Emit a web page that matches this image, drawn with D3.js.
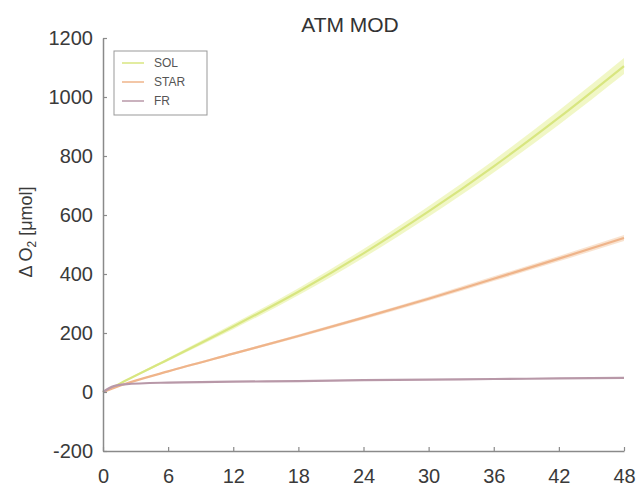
<!DOCTYPE html>
<html>
<head>
<meta charset="utf-8">
<script src="https://cdn.jsdelivr.net/npm/d3@7"></script>
<style>
  body { margin: 0; background: #fff; }
  svg { font-family: "Liberation Sans", Arial, Helvetica, sans-serif; }
</style>
</head>
<body>
<svg id="plotSvg"></svg>
<script>
// data
var hours = [0, 1, 2, 6, 12, 18, 24, 30, 36, 42, 48];
var solMean = [0, 18, 37, 110, 222, 340, 470, 612, 765, 930, 1105];
var solBand = [0, 1, 2, 5, 9, 12, 15, 18, 21, 24, 27];
var starMean = [0, 14, 27, 70, 130, 190, 252, 316, 384, 452, 522];
var starBand = [0, 1, 1, 3, 4, 5, 6, 7, 8, 9, 10];
var frMean = [0, 20, 26, 32, 35, 37, 40, 42, 44, 46, 48];
var frBand = [0, 1, 1, 1, 1, 2, 2, 2, 2, 2, 2];
var xTicks = [0, 6, 12, 18, 24, 30, 36, 42, 48];
var yTicks = [-200, 0, 200, 400, 600, 800, 1000, 1200];
var seriesNames = ["SOL", "STAR", "FR"];

var W = 641, H = 491;
var svg = d3.select("#plotSvg").attr("width", W).attr("height", H);
var margin = { top: 38, right: 17, bottom: 40, left: 103 };
var width = W - margin.left - margin.right,
  height = H - margin.top - margin.bottom;

var g = svg.append("g").attr("transform", "translate(" + margin.left + "," + margin.top + ")");

var x = d3.scaleLinear().domain([0, 48]).range([0, width]);
var y = d3.scaleLinear().domain([-200, 1200]).range([height, 0]);

var series = [
  { name: "SOL", mean: solMean, band: solBand, line: "#d8e680", fill: "#eef5b8" },
  { name: "STAR", mean: starMean, band: starBand, line: "#efb48a", fill: "#f8dcc4" },
  { name: "FR", mean: frMean, band: frBand, line: "#b898a8", fill: "#e6d6de" }
];

var area = d3.area()
  .x(function(d) { return x(d.t); })
  .y0(function(d) { return y(d.v - d.b); })
  .y1(function(d) { return y(d.v + d.b); })
  .curve(d3.curveMonotoneX);

var line = d3.line()
  .x(function(d) { return x(d.t); })
  .y(function(d) { return y(d.v); })
  .curve(d3.curveMonotoneX);

series.forEach(function(s) {
  var pts = hours.map(function(t, i) {
    return { t: t, v: s.mean[i], b: s.band[i] };
  });
  g.append("path").attr("d", area(pts)).attr("fill", s.fill).attr("opacity", 0.8);
  g.append("path").attr("d", line(pts)).attr("fill", "none")
    .attr("stroke", s.line).attr("stroke-width", 2.2);
});

// axes, matlab style: ticks inside, grey
var axisColor = "#8a8a8a";
var fmt = function(d) { return String(d); };
var xAxis = g.append("g")
  .attr("transform", "translate(0," + height + ")")
  .call(d3.axisBottom(x).tickValues(xTicks).tickFormat(fmt)
    .tickSizeInner(-4).tickSizeOuter(0).tickPadding(18));
var yAxis = g.append("g")
  .call(d3.axisLeft(y).tickValues(yTicks).tickFormat(fmt)
    .tickSizeInner(-4).tickSizeOuter(0).tickPadding(10));

[xAxis, yAxis].forEach(function(a) {
  a.select(".domain").attr("stroke", axisColor).attr("stroke-width", 1.5);
  a.selectAll(".tick line").attr("stroke", axisColor).attr("stroke-width", 1.2);
  a.selectAll(".tick text").attr("fill", "#3a3a3a").attr("font-size", 20);
});

// title
svg.append("text")
  .attr("x", 350).attr("y", 32)
  .attr("text-anchor", "middle")
  .attr("font-size", 21)
  .attr("fill", "#333")
  .text("ATM MOD");

// y label
var yl = svg.append("text")
  .attr("transform", "translate(32,232) rotate(-90)")
  .attr("text-anchor", "middle")
  .attr("font-size", 18)
  .attr("fill", "#3a3a3a");
yl.append("tspan").text("\u0394 O");
yl.append("tspan").attr("font-size", 12).attr("dy", 4).text("2");
yl.append("tspan").attr("dy", -4).text(" [\u03BCmol]");

// legend
var legend = svg.append("g").attr("transform", "translate(114,51)");
legend.append("rect")
  .attr("width", 93).attr("height", 64)
  .attr("fill", "#fff").attr("stroke", "#999").attr("stroke-width", 1);
var items = legend.selectAll("g.item")
  .data(series)
  .enter().append("g")
  .attr("transform", function(d, i) { return "translate(0," + (12 + i * 19) + ")"; });
items.append("line")
  .attr("x1", 8).attr("x2", 30)
  .attr("stroke", function(d) { return d.line; })
  .attr("stroke-width", 1.5);
items.append("text")
  .attr("x", 40).attr("dy", "0.35em")
  .attr("font-size", 12)
  .attr("fill", "#555")
  .text(function(d, i) { return seriesNames[i]; });
</script>
</body>
</html>
